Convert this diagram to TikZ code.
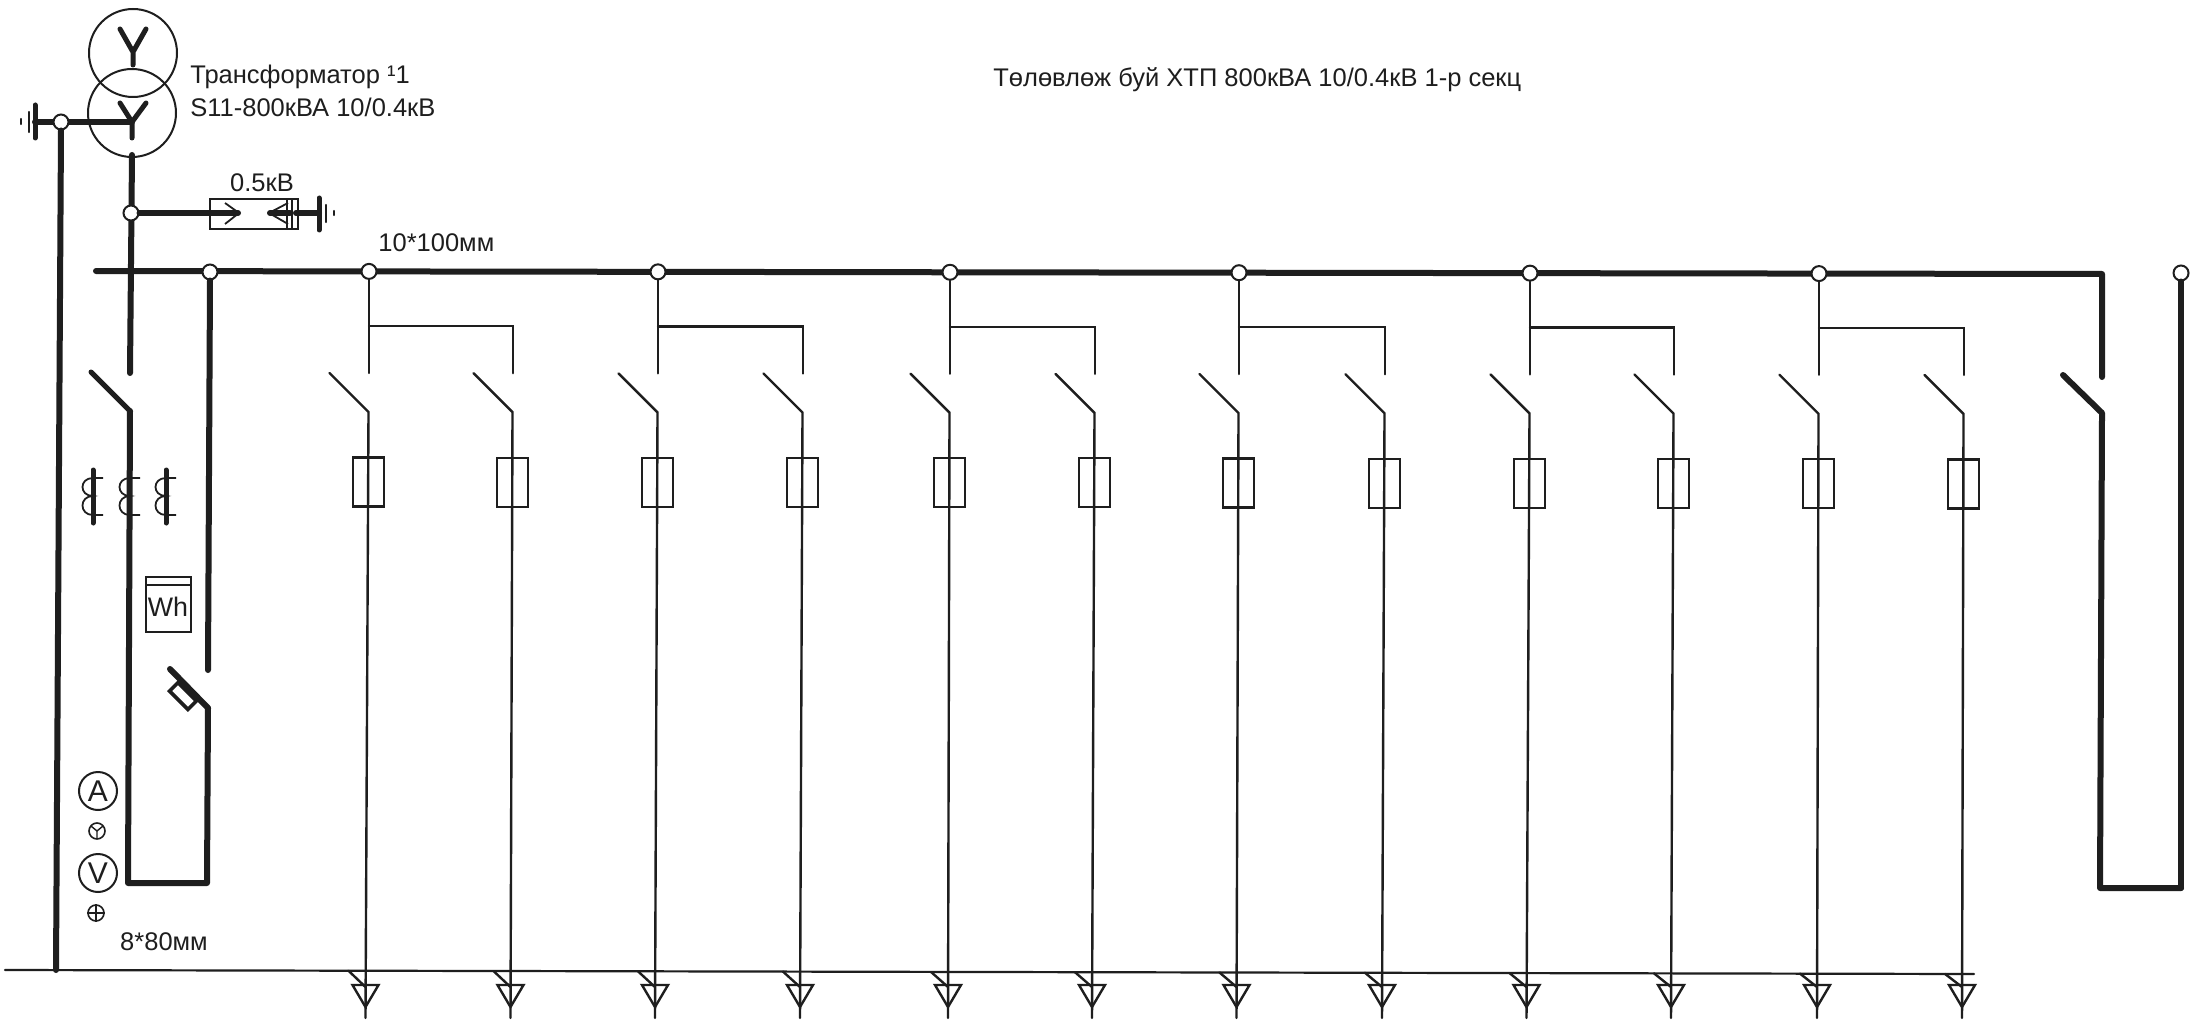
\documentclass[tikz,border=0pt]{standalone}
\usepackage{fontspec}
\setmainfont{Liberation Sans}
\definecolor{ink}{HTML}{1E1E1E}
\tikzset{
  heavy/.style={line width=3pt,color=ink,line cap=round,line join=round},
  midw/.style={line width=2.5pt,color=ink,line cap=round,line join=round},
  lightw/.style={line width=1.2pt,color=ink,line cap=round,line join=miter},
  hair/.style={line width=0.9pt,color=ink,line join=miter},
  jct/.style={circle,draw=ink,fill=white,line width=1pt,inner sep=0pt,minimum size=7.5pt},
  lbl/.style={inner sep=0pt,text=ink,font=\fontsize{12.75pt}{15pt}\selectfont},
  fusebox/.style={draw=ink,line width=1.1pt,minimum width=15.5pt,minimum height=24.5pt,inner sep=0pt},
  meter/.style={circle,draw=ink,line width=1pt,inner sep=0pt,minimum size=19pt,font=\fontsize{15pt}{15pt}\selectfont,text=ink},
  tinym/.style={circle,draw=ink,line width=0.8pt,inner sep=0pt,minimum size=8pt}
}
\newcommand{\coilat}[2]{%
  \draw[hair] (#1+10,#2-18) -- (#1,#2-18) .. controls (#1-14,#2-18) and (#1-14,#2) .. (#1,#2)
     .. controls (#1-14,#2) and (#1-14,#2+19) .. (#1,#2+19) -- (#1+10,#2+19);}
\begin{document}
\begin{tikzpicture}[x=0.5pt,y=-0.5pt]
\useasboundingbox (0,0) rectangle (2193,1027);
\fill[white] (0,0) rectangle (2193,1027);

% transformer
\node[circle,draw=ink,line width=1pt,minimum size=44pt,inner sep=0pt] (tr1) at (133,53) {};
\node[circle,draw=ink,line width=1pt,minimum size=44pt,inner sep=0pt] (tr2) at (132,113) {};
\coordinate (y1a) at (120,29); \coordinate (y1b) at (146,29); \coordinate (y1c) at (133,52); \coordinate (y1d) at (133,65);
\draw[midw] (y1a) -- (y1c) -- (y1b) (y1c) -- (y1d);
\coordinate (y2a) at (120,103); \coordinate (y2b) at (146,103); \coordinate (y2c) at (132,122); \coordinate (y2d) at (132,138);
\draw[midw] (y2a) -- (y2c) -- (y2b) (y2c) -- (y2d);

% neutral and earth
\coordinate (gn1) at (35,122);
\coordinate (gnd) at (56,970);
\draw[heavy] (gn1) -- (y2c);
\draw[midw] (35,105) -- (35,138);
\draw[lightw] (29,112) -- (29,132);
\draw[lightw] (21,119) -- (21,124);
\node[jct] (jn) at (61,122) {};
\draw[heavy] (jn.south) -- (gnd);

% main feed
\coordinate (m0) at (132,155);
\coordinate (m1) at (130,373);
\coordinate (bl) at (96,271);
\coordinate (br) at (2102,274);
\coordinate (bd) at (2102,377);
\draw[heavy] (m0) -- (m1);
\draw[heavy] (bl) -- (br) -- (bd);

% surge arrester
\node[jct] (js) at (131,213) {};
\node[draw=ink,line width=0.8pt,minimum width=44pt,minimum height=15pt,inner sep=0pt] (sa) at (254,214) {};
\coordinate (sa1) at (238,213);
\coordinate (sa2) at (270,213);
\coordinate (sa3) at (290,213);
\coordinate (sa4) at (296,213);
\coordinate (sa5) at (319,213);
\draw[heavy] (js.east) -- (sa1);
\draw[heavy] (sa2) -- (sa3);
\draw[heavy] (sa4) -- (sa5);
\draw[hair] (225,203) -- (239,213) -- (225,224);
\draw[hair] (288,203) -- (269,213) -- (288,224);
\draw[hair] (287,199) -- (287,229) (292,199) -- (292,229);
\draw[midw] (319,198) -- (319,230);
\draw[lightw] (326,205) -- (326,222);
\draw[lightw] (334,211) -- (334,215);
\node[lbl] (v05) at (262,183) {0.5кВ};

% main breaker
\coordinate (mb1) at (91,372);
\coordinate (mb2) at (130,411);
\coordinate (mb3) at (128,883);
\coordinate (mb4) at (207,883);
\coordinate (mb5) at (208,708);
\coordinate (mb6) at (170,669);
\draw[heavy] (mb2) -- (mb3) -- (mb4) -- (mb5);
\draw[midw] (mb1) -- (mb2);
\draw[heavy] (mb5) -- (mb6);
\node[draw=ink,line width=1.8pt,fill=white,minimum width=13pt,minimum height=6pt,inner sep=0pt,rotate=-45] (mbf) at (183,696) {};

% second bar drop
\node[jct] (j0) at (210,272) {};
\coordinate (d0) at (208,670);
\draw[heavy] (j0.south) -- (d0);

% current transformers
\draw[midw] (93,470) -- (93,523);
\draw[midw] (166,470) -- (166,523);
\coilat{93}{496}
\coilat{130}{496}
\coilat{166}{496}

% meter
\node[draw=ink,line width=0.9pt,minimum width=22.5pt,minimum height=27.5pt,inner sep=0pt] (wh) at (168.5,604.5) {};
\draw[hair] (146,585) -- (191,585);
\node[lbl,font=\fontsize{13.4pt}{15pt}\selectfont] (wht) at (168,607) {Wh};

% instruments
\node[meter] (amm) at (98,791) {A};
\node[meter] (vmm) at (98,873) {V};
\node[tinym] (ysym) at (97,831) {};
\draw[line width=0.7pt,color=ink] (ysym.center) -- (91,826) (ysym.center) -- (103,826) (ysym.center) -- (97,838);
\node[tinym] (psym) at (96,913) {};
\draw[line width=0.7pt,color=ink] (psym.west) -- (psym.east) (psym.north) -- (psym.south);
\node[lbl] (l880) at (164,942) {8*80мм};

% earth bar
\coordinate (eb1) at (5,970);
\coordinate (eb2) at (1974,974);
\draw[lightw,line width=1.1pt] (eb1) -- (eb2);

% feeders
\foreach \n/\t/\b in {1/369/365.5,2/513/510.5,3/658/655,4/803/800,5/950/948,6/1095/1092,7/1239/1236.5,8/1385/1382,9/1530/1526.5,10/1674/1671,11/1819/1817,12/1964/1962}{
  \pgfmathsetmacro\dy{(\t-369)*0.0012}
  \pgfmathsetmacro\hx{\t-0.5}
  \pgfmathsetmacro\hy{412+\dy}
  \pgfmathsetmacro\fx{\t-0.5}
  \pgfmathsetmacro\gy{970+\t*0.002}
  \coordinate (c\n) at (\t,{373+\dy});
  \coordinate (s\n) at (\t,{326+\dy});
  \coordinate (h\n) at (\hx,\hy);
  \coordinate (b\n) at (\hx-39,{373+\dy});
  \coordinate (e\n) at (\b,1018);
  \coordinate (k\n) at (\b-17,\gy);
  \coordinate (q\n) at (\b,987);
  \coordinate (ta\n) at (\b-13,985);
  \coordinate (tb\n) at (\b+13,985);
  \coordinate (tc\n) at (\b,1007);
  \draw[lightw] (b\n) -- (h\n) -- (e\n);
  \node[fusebox] (f\n) at (\fx,{482+\dy}) {};
  \draw[lightw] (k\n) -- (q\n);
  \draw[lightw] (ta\n) -- (tb\n) -- (tc\n) -- cycle;
}
% junctions and ties
\foreach \a/\c/\t in {1/2/369,3/4/658,5/6/950,7/8/1239,9/10/1530,11/12/1819}{
  \pgfmathsetmacro\yb{271+(\t-96)*0.0015}
  \node[jct] (J\a) at (\t,\yb) {};
  \draw[lightw] (J\a.south) -- (c\a);
  \draw[lightw] (s\a) -| (c\c);
}

% tie breaker at the right end
\coordinate (rb1) at (2063,375);
\coordinate (rb2) at (2102,413);
\coordinate (rb3) at (2100,888);
\coordinate (rb4) at (2181,888);
\draw[heavy] (rb1) -- (rb2) -- (rb3) -- (rb4);
\node[jct] (jr) at (2181,273) {};
\draw[heavy] (jr.south) -- (rb4);

% labels
\node[lbl,anchor=west] (tl1) at (190,77) {Трансформатор ¹1};
\node[lbl,anchor=west] (tl2) at (190,107) {S11-800кВА 10/0.4кВ};
\node[lbl,anchor=west] (tl3) at (378,243) {10*100мм};
\node[lbl,anchor=west] (title) at (993,80) {Төлөвлөж буй ХТП 800кВА 10/0.4кВ 1-р секц};
\end{tikzpicture}
\end{document}
